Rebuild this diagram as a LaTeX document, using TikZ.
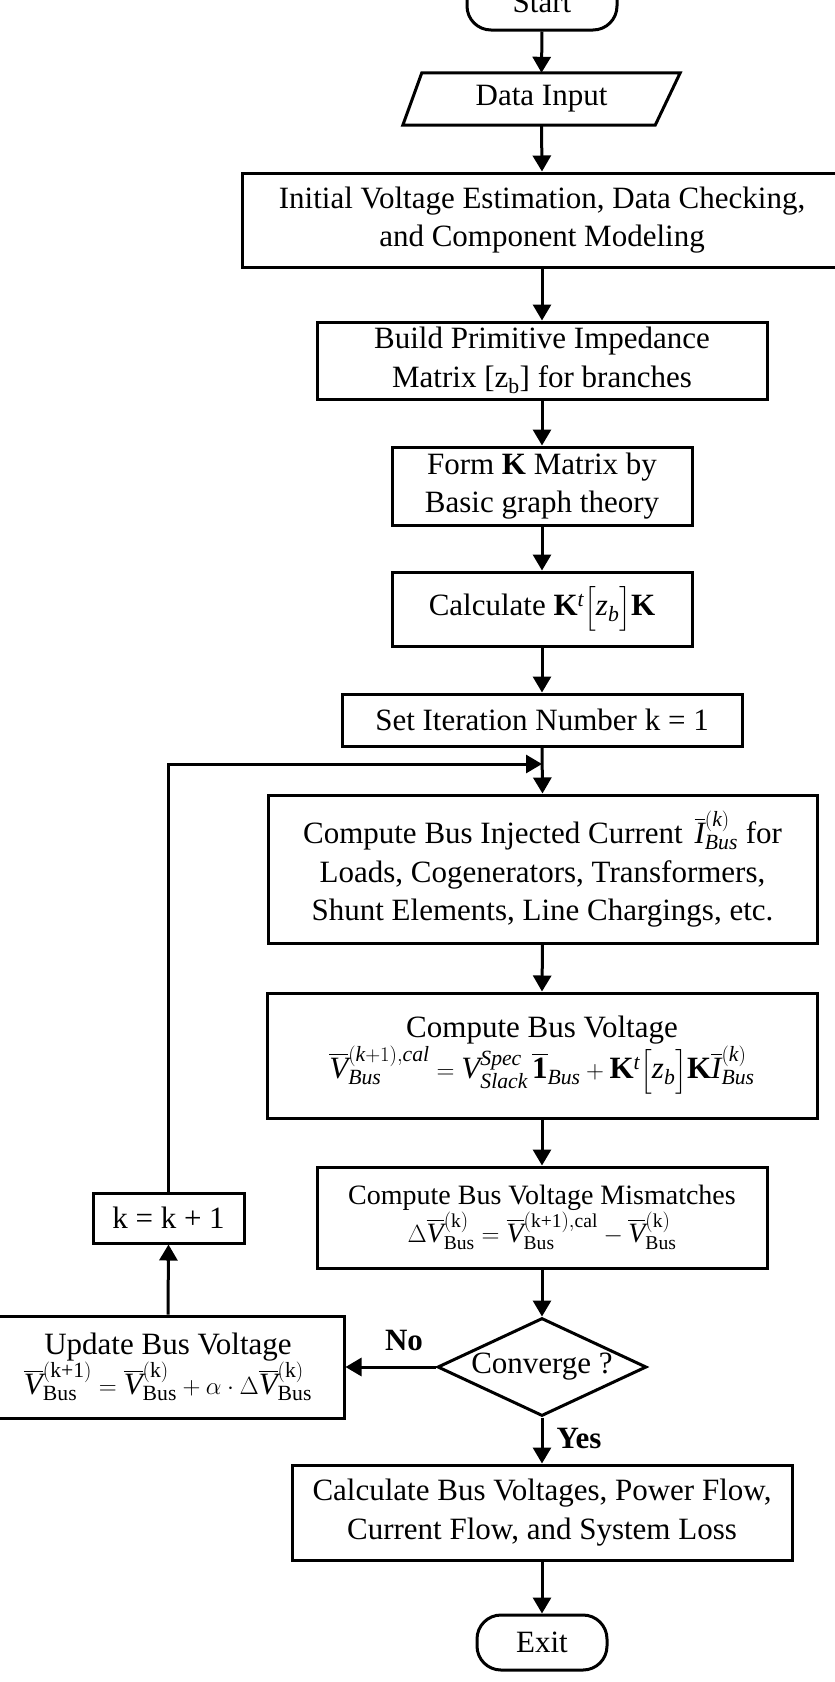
\documentclass[tikz,border=0pt]{standalone}
\usepackage{amsmath}
\usepackage{fontspec}
\setmainfont{Liberation Serif}
\usetikzlibrary{shapes.geometric,arrows.meta,calc}
\newcommand{\mi}[1]{\textit{#1}}
\newcommand{\mr}[1]{\textrm{#1}}
\begin{document}
\begin{tikzpicture}[x=1pt,y=-1pt,
  every node/.style={font=\fontsize{31}{38.5}\selectfont, inner sep=0pt, align=center},
  box/.style={draw, line width=3pt, rectangle},
  term/.style={draw, line width=3pt, rounded corners=24pt},
  conn/.style={line width=3pt, -{Triangle[length=16pt,width=18pt]}},
  edge/.style={line width=3pt},
  lab/.style={font=\fontsize{31}{38.5}\selectfont\bfseries}]
\useasboundingbox (0,0) rectangle (835,1682);
\clip (0,0) rectangle (835,1682);

\node[term, minimum width=150, minimum height=56] (start) at (542,2) {Start};
\node[minimum width=277, minimum height=52] (data) at (541.5,99) {Data Input};
\draw[edge, line join=miter] ($(data.north west)+(19,0)$) -- (data.north east) -- ($(data.south east)+(-25,0)$) -- (data.south west) -- cycle;
\node[box, minimum width=600, minimum height=94] (init) at (542,220) {Initial Voltage Estimation, Data Checking,\\ and Component Modeling};
\node[box, minimum width=450, minimum height=77] (build) at (542,360.5) {Build Primitive Impedance\\ Matrix [z\textsubscript{b}] for branches};
\node[box, minimum width=300, minimum height=78] (formk) at (542,486) {Form \textbf{K} Matrix by\\ Basic graph theory};
\node[box, minimum width=300, minimum height=74] (calc) at (542,609) {Calculate $\mathbf{K}^{\mi{t}}\Big[\mi{z}_{\mi{b}}\Big]\mathbf{K}$};
\node[box, minimum width=400, minimum height=52] (setit) at (542,720) {Set Iteration Number k = 1};
\node[box, minimum width=549, minimum height=148] (inj) at (542.5,869) {Compute Bus Injected Current $\,\overline{\mi{I}}_{\mi{Bus}}^{(\mi{k})}$ for\\ Loads, Cogenerators, Transformers,\\ Shunt Elements, Line Chargings, etc.};
\node[box, minimum width=550, minimum height=125] (volt) at (542,1055.5) {Compute Bus Voltage\\ $\overline{\mi{V}}_{\mi{Bus}}^{(\mi{k}+1),\mi{cal}} = \mi{V}_{\mi{Slack}}^{\mi{Spec}}\,\overline{\mathbf{1}}_{\mi{Bus}} + \mathbf{K}^{\mi{t}}\Big[\mi{z}_{\mi{b}}\Big]\mathbf{K}\overline{\mi{I}}_{\mi{Bus}}^{(\mi{k})}$};
\node[box, minimum width=450, minimum height=101, font=\fontsize{28}{36}\selectfont] (mism) at (542,1217.5) {Compute Bus Voltage Mismatches\\ $\Delta\overline{\mi{V}}_{\mr{Bus}}^{(\mr{k})} = \overline{\mi{V}}_{\mr{Bus}}^{(\mr{k+1}),\mr{cal}} - \overline{\mi{V}}_{\mr{Bus}}^{(\mr{k})}$};
\node[diamond, draw, line width=3pt, shape aspect=2.13, minimum width=209, minimum height=98] (conv) at (542,1367) {Converge ?};
\node[box, minimum width=352, minimum height=102] (upd) at (168,1367) {Update Bus Voltage\\ $\overline{\mi{V}}_{\mr{Bus}}^{(\mr{k+1})} = \overline{\mi{V}}_{\mr{Bus}}^{(\mr{k})} + \alpha\cdot\Delta\overline{\mi{V}}_{\mr{Bus}}^{(\mr{k})}$};
\node[box, minimum width=151, minimum height=50] (kbox) at (168.5,1218) {k = k + 1};
\node[box, minimum width=500, minimum height=95] (final) at (542,1512.5) {Calculate Bus Voltages, Power Flow,\\ Current Flow, and System Loss};
\node[term, minimum width=130, minimum height=55] (exit) at (542,1642.5) {Exit};
\node[lab] (nolab) at (404,1340) {No};
\node[lab] (yeslab) at (579,1438) {Yes};
\coordinate (join) at (542,764);

\draw[conn] (start.south) -- (data.north);
\draw[conn] (data.south) -- (init.north);
\draw[conn] (init.south) -- (build.north);
\draw[conn] (build.south) -- (formk.north);
\draw[conn] (formk.south) -- (calc.north);
\draw[conn] (calc.south) -- (setit.north);
\draw[conn] (setit.south) -- (inj.north);
\draw[conn] (inj.south) -- (volt.north);
\draw[conn] (volt.south) -- (mism.north);
\draw[conn] (mism.south) -- (conv.north);
\draw[conn] (conv.west) -- (upd.east);
\draw[conn] (conv.south) -- (final.north);
\draw[conn] (final.south) -- (exit.north);
\draw[conn] (upd.north) -- (kbox.south);
\draw[conn, line join=miter] (kbox.north) |- (join);
\end{tikzpicture}
\end{document}
